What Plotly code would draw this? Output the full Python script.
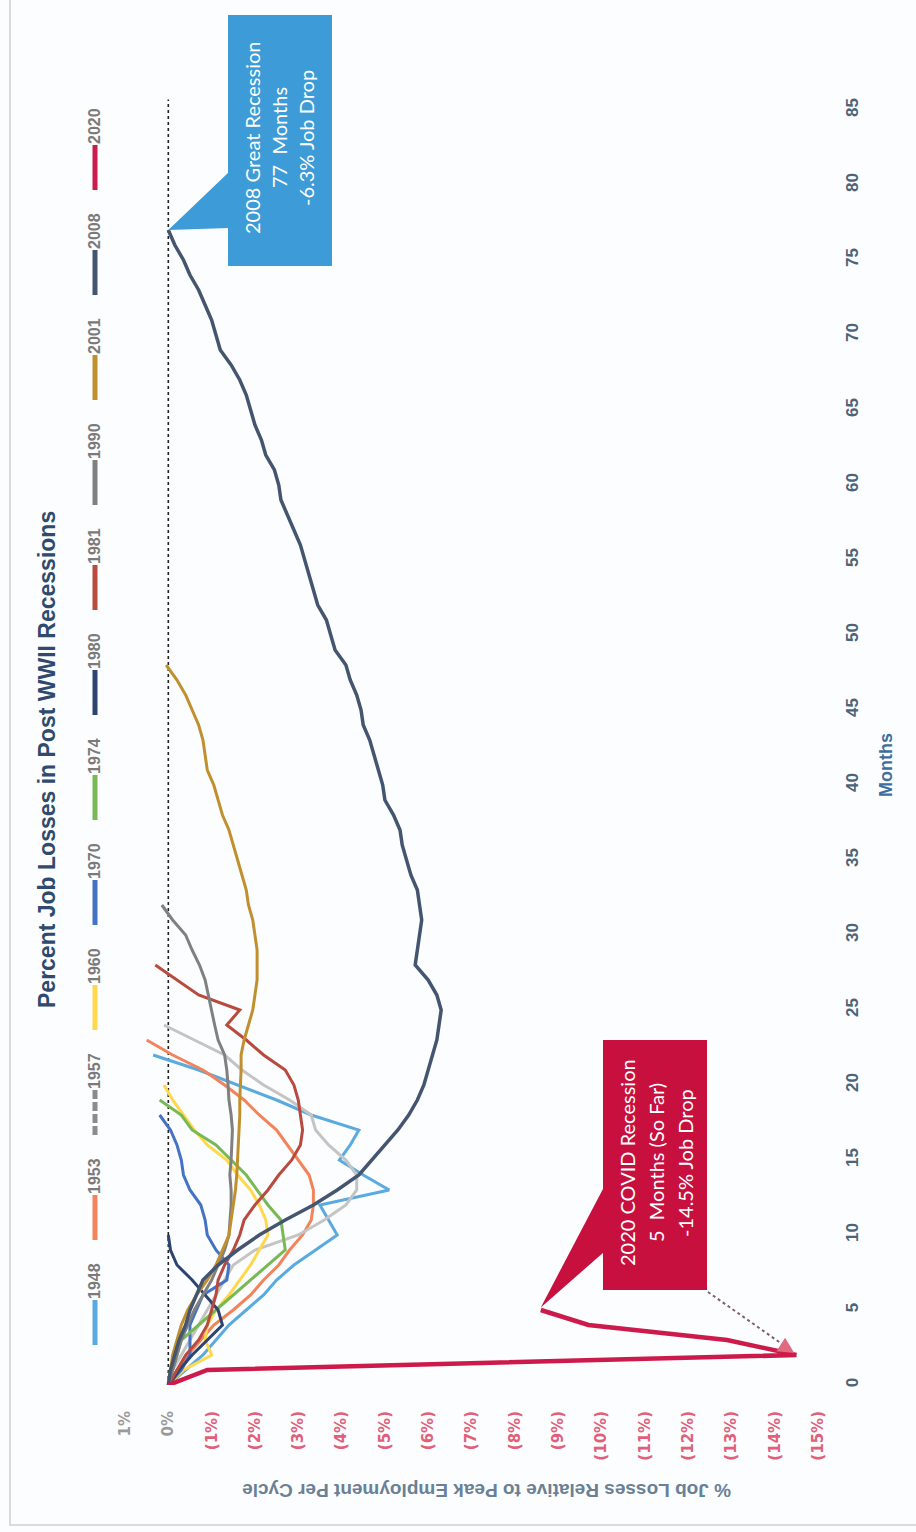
import plotly.graph_objects as go

# ---- recession job-loss paths: % change from pre-recession employment peak, by month ----
years = ["1948", "1953", "1957", "1960", "1970", "1974", "1980", "1981", "1990", "2001", "2008", "2020"]

vals_1948 = [0, -0.4, -0.8, -1.1, -1.4, -1.8, -2.2, -2.5, -2.9, -3.4, -3.9, -3.7, -3.5, -5.1,
             -4.5, -3.95, -4.2, -4.4, -3.3, -2.5, -1.6, -0.7, 0.35]
vals_1953 = [0, -0.2, -0.45, -0.75, -1.05, -1.5, -1.9, -2.2, -2.55, -2.8, -3.1, -3.3, -3.35,
             -3.35, -3.25, -3.0, -2.75, -2.5, -2.1, -1.75, -1.3, -0.8, -0.1, 0.5]
vals_1957 = [0, -0.1, -0.3, -0.5, -0.7, -0.9, -1.1, -1.3, -1.5, -2.0, -3.0, -3.6, -4.1, -4.35,
             -4.35, -4.1, -3.7, -3.4, -3.3, -2.8, -2.2, -1.7, -1.3, -0.6, 0.1]
vals_1960 = [0, -0.35, -1.0, -0.85, -0.9, -1.1, -1.4, -1.65, -1.9, -2.1, -2.3, -2.25, -2.1,
             -1.9, -1.6, -1.35, -0.9, -0.6, -0.35, -0.1, 0.1]
vals_1970 = [0, -0.3, -0.5, -0.5, -0.5, -0.65, -0.8, -1.35, -1.4, -1.1, -0.9, -0.85, -0.75,
             -0.5, -0.35, -0.3, -0.2, -0.05, 0.2]
vals_1974 = [0, -0.1, -0.2, -0.3, -0.7, -1.1, -1.5, -1.9, -2.3, -2.7, -2.65, -2.6, -2.3,
             -2.05, -1.8, -1.45, -1.1, -0.55, -0.3, 0.2]
vals_1980 = [0, -0.25, -0.55, -0.9, -1.25, -1.15, -0.85, -0.55, -0.2, -0.05, 0.0]
vals_1981 = [0, -0.2, -0.4, -0.7, -0.9, -1.0, -1.1, -1.15, -1.3, -1.5, -1.65, -1.75, -2.0,
             -2.3, -2.55, -2.85, -3.05, -3.1, -3.05, -3.0, -2.9, -2.7, -2.2, -1.8, -1.35,
             -1.65, -0.7, -0.2, 0.3]
vals_1990 = [0, -0.1, -0.2, -0.3, -0.45, -0.6, -0.8, -1.0, -1.15, -1.3, -1.4, -1.42, -1.45,
             -1.45, -1.42, -1.45, -1.47, -1.48, -1.45, -1.4, -1.38, -1.35, -1.3, -1.15,
             -1.07, -1.0, -0.92, -0.85, -0.72, -0.55, -0.4, -0.1, 0.15]
vals_2001 = [0, -0.05, -0.1, -0.2, -0.3, -0.45, -0.65, -0.9, -1.1, -1.25, -1.4, -1.45, -1.5,
             -1.55, -1.58, -1.6, -1.62, -1.63, -1.65, -1.65, -1.67, -1.68, -1.68, -1.75,
             -1.85, -1.95, -2.0, -2.05, -2.05, -2.05, -2.0, -1.95, -1.85, -1.8, -1.7, -1.6,
             -1.5, -1.4, -1.25, -1.15, -1.05, -0.9, -0.85, -0.8, -0.7, -0.55, -0.4, -0.2, 0.05]
vals_2008 = [0, -0.05, -0.15, -0.25, -0.4, -0.5, -0.65, -0.8, -1.15, -1.6, -2.1, -2.7, -3.35,
             -3.9, -4.4, -4.7, -5.0, -5.3, -5.55, -5.75, -5.9, -6.0, -6.1, -6.2, -6.25, -6.3,
             -6.2, -6.0, -5.7, -5.75, -5.8, -5.85, -5.8, -5.75, -5.6, -5.5, -5.4, -5.35, -5.2,
             -5.0, -4.95, -4.85, -4.75, -4.65, -4.5, -4.45, -4.35, -4.2, -4.1, -3.85, -3.75,
             -3.65, -3.45, -3.35, -3.25, -3.15, -3.05, -2.9, -2.75, -2.6, -2.55, -2.45, -2.25,
             -2.15, -2.0, -1.9, -1.8, -1.65, -1.45, -1.2, -1.1, -1.0, -0.85, -0.7, -0.5,
             -0.35, -0.15, 0.0]
vals_2020 = [0, -0.9, -14.5, -12.9, -9.7, -8.6]

series_vals = [vals_1948, vals_1953, vals_1957, vals_1960, vals_1970, vals_1974,
               vals_1980, vals_1981, vals_1990, vals_2001, vals_2008, vals_2020]
series_colors = ["#5AAAE0", "#F2845C", "#C4C4C4", "#FFD84D", "#4472C4", "#78B956",
                 "#2E4470", "#B84A3E", "#808080", "#C0902E", "#445570", "#CC1A4A"]
series_widths = [3, 3, 3, 3, 3, 3, 3, 3, 3, 3, 3.5, 4.5]
legend_dash = ["solid"] * 12
legend_dash[2] = "9px,3px"
legend_colors = list(series_colors)
legend_colors[2] = "#8C8C8C"

month_ticks = list(range(0, 90, 5))
pct_ticks = [1, 0, -1, -2, -3, -4, -5, -6, -7, -8, -9, -10, -11, -12, -13, -14, -15]
pct_labels = ["1%", "0%", "(1%)", "(2%)", "(3%)", "(4%)", "(5%)", "(6%)", "(7%)", "(8%)",
              "(9%)", "(10%)", "(11%)", "(12%)", "(13%)", "(14%)", "(15%)"]

# ---- figure geometry (pixels) ----
W, H = 916, 1532
ML, MR, MT, MB = 125, 98, 95, 147
PW, PH = W - ML - MR, H - MT - MB
X_RANGE = [1, -15]
Y_RANGE = [0, 86]


def px(x):
    return (x - ML) / PW


def py(y):
    return (H - MB - y) / PH


def vx(v):  # data value -> paper x
    return (X_RANGE[0] - v) / (X_RANGE[0] - X_RANGE[1])


def my(m):  # month -> paper y
    return (m - Y_RANGE[0]) / (Y_RANGE[1] - Y_RANGE[0])


fig = go.Figure()

for yr, vals, col, w in zip(years, series_vals, series_colors, series_widths):
    fig.add_trace(go.Scatter(
        x=vals, y=list(range(len(vals))), mode="lines", name=yr,
        line=dict(color=col, width=w), showlegend=False))

shapes = []
annotations = []

# zero reference line
shapes.append(dict(type="line", xref="x", yref="y", x0=0, x1=0, y0=0, y1=85.7,
                   line=dict(color="#222222", width=1.6, dash="dot"), layer="below"))

# outer frame
shapes.append(dict(type="rect", xref="paper", yref="paper",
                   x0=px(10), x1=px(930), y0=py(1525), y1=py(-10),
                   line=dict(color="#D0D0D0", width=1.5)))

# legend (vertical, text rotated)
LEG_X = 95
for i, (yr, col, dash) in enumerate(zip(years, legend_colors, legend_dash)):
    base = 1345 - i * 105
    shapes.append(dict(type="line", xref="paper", yref="paper",
                       x0=px(LEG_X), x1=px(LEG_X), y0=py(base), y1=py(base - 45),
                       line=dict(color=col, width=5, dash=dash)))
    annotations.append(dict(text=f"<b>{yr}</b>", xref="paper", yref="paper",
                            x=px(LEG_X - 1), y=py(base - 64), textangle=-90,
                            showarrow=False, xanchor="center", yanchor="middle",
                            font=dict(family="Liberation Sans Narrow, Liberation Sans", size=16,
                                      color="#7A7A7A")))

# title
annotations.append(dict(text="<b>Percent Job Losses in Post WWII Recessions</b>",
                        xref="paper", yref="paper", x=px(47), y=py(760), textangle=-90,
                        showarrow=False, xanchor="center", yanchor="middle",
                        font=dict(family="Liberation Sans", size=23, color="#2F4A6D")))

# axis titles
annotations.append(dict(text="<b>% Job Losses Relative to Peak Employment Per Cycle</b>",
                        xref="paper", yref="paper", x=px(487), y=py(1491), textangle=180,
                        showarrow=False, xanchor="center", yanchor="middle",
                        font=dict(family="Liberation Sans", size=19, color="#6A8095")))
annotations.append(dict(text="<b>Months</b>", xref="paper", yref="paper",
                        x=px(886), y=py(765), textangle=-90, showarrow=False,
                        xanchor="center", yanchor="middle",
                        font=dict(family="Liberation Sans Narrow, Liberation Sans", size=18,
                                  color="#3E6E9E")))

# ---- 2008 callout ----
BLUE = "#3D9BD8"
end_m = len(vals_2008) - 1
tip08 = (vx(vals_2008[-1]), my(end_m))
shapes.append(dict(type="rect", xref="paper", yref="paper", x0=px(228), x1=px(332),
                   y0=py(266), y1=py(15), fillcolor=BLUE, line=dict(width=0)))
shapes.append(dict(type="path", xref="paper", yref="paper",
                   path=f"M {px(229)} {py(172)} L {px(229)} {py(228)} L {tip08[0]} {tip08[1]} Z",
                   fillcolor=BLUE, line=dict(width=0)))
lines08 = ["2008 Great Recession", f"{end_m}\u00a0\u00a0Months",
           f"{min(vals_2008):.1f}% Job Drop"]
for k, t in enumerate(lines08):
    annotations.append(dict(text=t, xref="paper", yref="paper", x=px(252 + 27 * k), y=py(138),
                            textangle=-90, showarrow=False, xanchor="center", yanchor="middle",
                            font=dict(family="Lato", size=20, color="white")))

# ---- 2020 callout ----
RED = "#C8103E"
last20 = len(vals_2020) - 1
tip20 = (vx(vals_2020[-1]), my(last20))
shapes.append(dict(type="rect", xref="paper", yref="paper", x0=px(603), x1=px(707),
                   y0=py(1290), y1=py(1040), fillcolor=RED, line=dict(width=0)))
shapes.append(dict(type="path", xref="paper", yref="paper",
                   path=f"M {px(604)} {py(1187)} L {px(604)} {py(1252)} L {tip20[0]} {tip20[1] + 0.002} Z",
                   fillcolor=RED, line=dict(width=0)))
lines20 = ["2020 COVID Recession", f"{last20}\u00a0\u00a0Months (So Far)",
           f"{min(vals_2020):.1f}% Job Drop"]
for k, t in enumerate(lines20):
    annotations.append(dict(text=t, xref="paper", yref="paper", x=px(627 + 29 * k), y=py(1163),
                            textangle=-90, showarrow=False, xanchor="center", yanchor="middle",
                            font=dict(family="Lato", size=20, color="white")))

# dotted pointer to the 2020 trough
trough_m = vals_2020.index(min(vals_2020))
tx, ty = vx(min(vals_2020)), my(trough_m)
shapes.append(dict(type="line", xref="paper", yref="paper",
                   x0=px(708), y0=py(1292), x1=tx - 0.014, y1=ty + 0.006,
                   line=dict(color="#7D6068", width=2, dash="dot")))
annotations.append(dict(text="", xref="paper", yref="paper", x=tx - 0.003, y=ty + 0.0015,
                        ax=-14, ay=-9, showarrow=True, arrowhead=2, arrowsize=1.6,
                        arrowwidth=2, arrowcolor="#E06A80"))

pct_colors = ["#9A9A9A" if v >= 0 else "#E0607A" for v in pct_ticks]
pct_text = [f"<span style='color:{c}'>{t}</span>" for t, c in zip(pct_labels, pct_colors)]

fig.update_layout(
    width=W, height=H,
    margin=dict(l=ML, r=MR, t=MT, b=MB, autoexpand=False),
    paper_bgcolor="#FCFDFE", plot_bgcolor="#FCFDFE",
    shapes=shapes, annotations=annotations, showlegend=False,
    xaxis=dict(range=X_RANGE, tickvals=pct_ticks, ticktext=pct_text, tickangle=-90,
               showgrid=False, zeroline=False, showline=False, ticks="",
               ticklabelstandoff=22,
               tickfont=dict(family="DejaVu Sans", size=15, weight="bold", color="#E0607A")),
    yaxis=dict(range=Y_RANGE, tickvals=month_ticks, side="right", tickangle=-90,
               showgrid=False, zeroline=False, showline=False, ticks="",
               ticklabelstandoff=22,
               tickfont=dict(family="Liberation Sans Narrow, Liberation Sans", size=17,
                             weight="bold", color="#4D6478")),
)

fig.write_html("out.html")
